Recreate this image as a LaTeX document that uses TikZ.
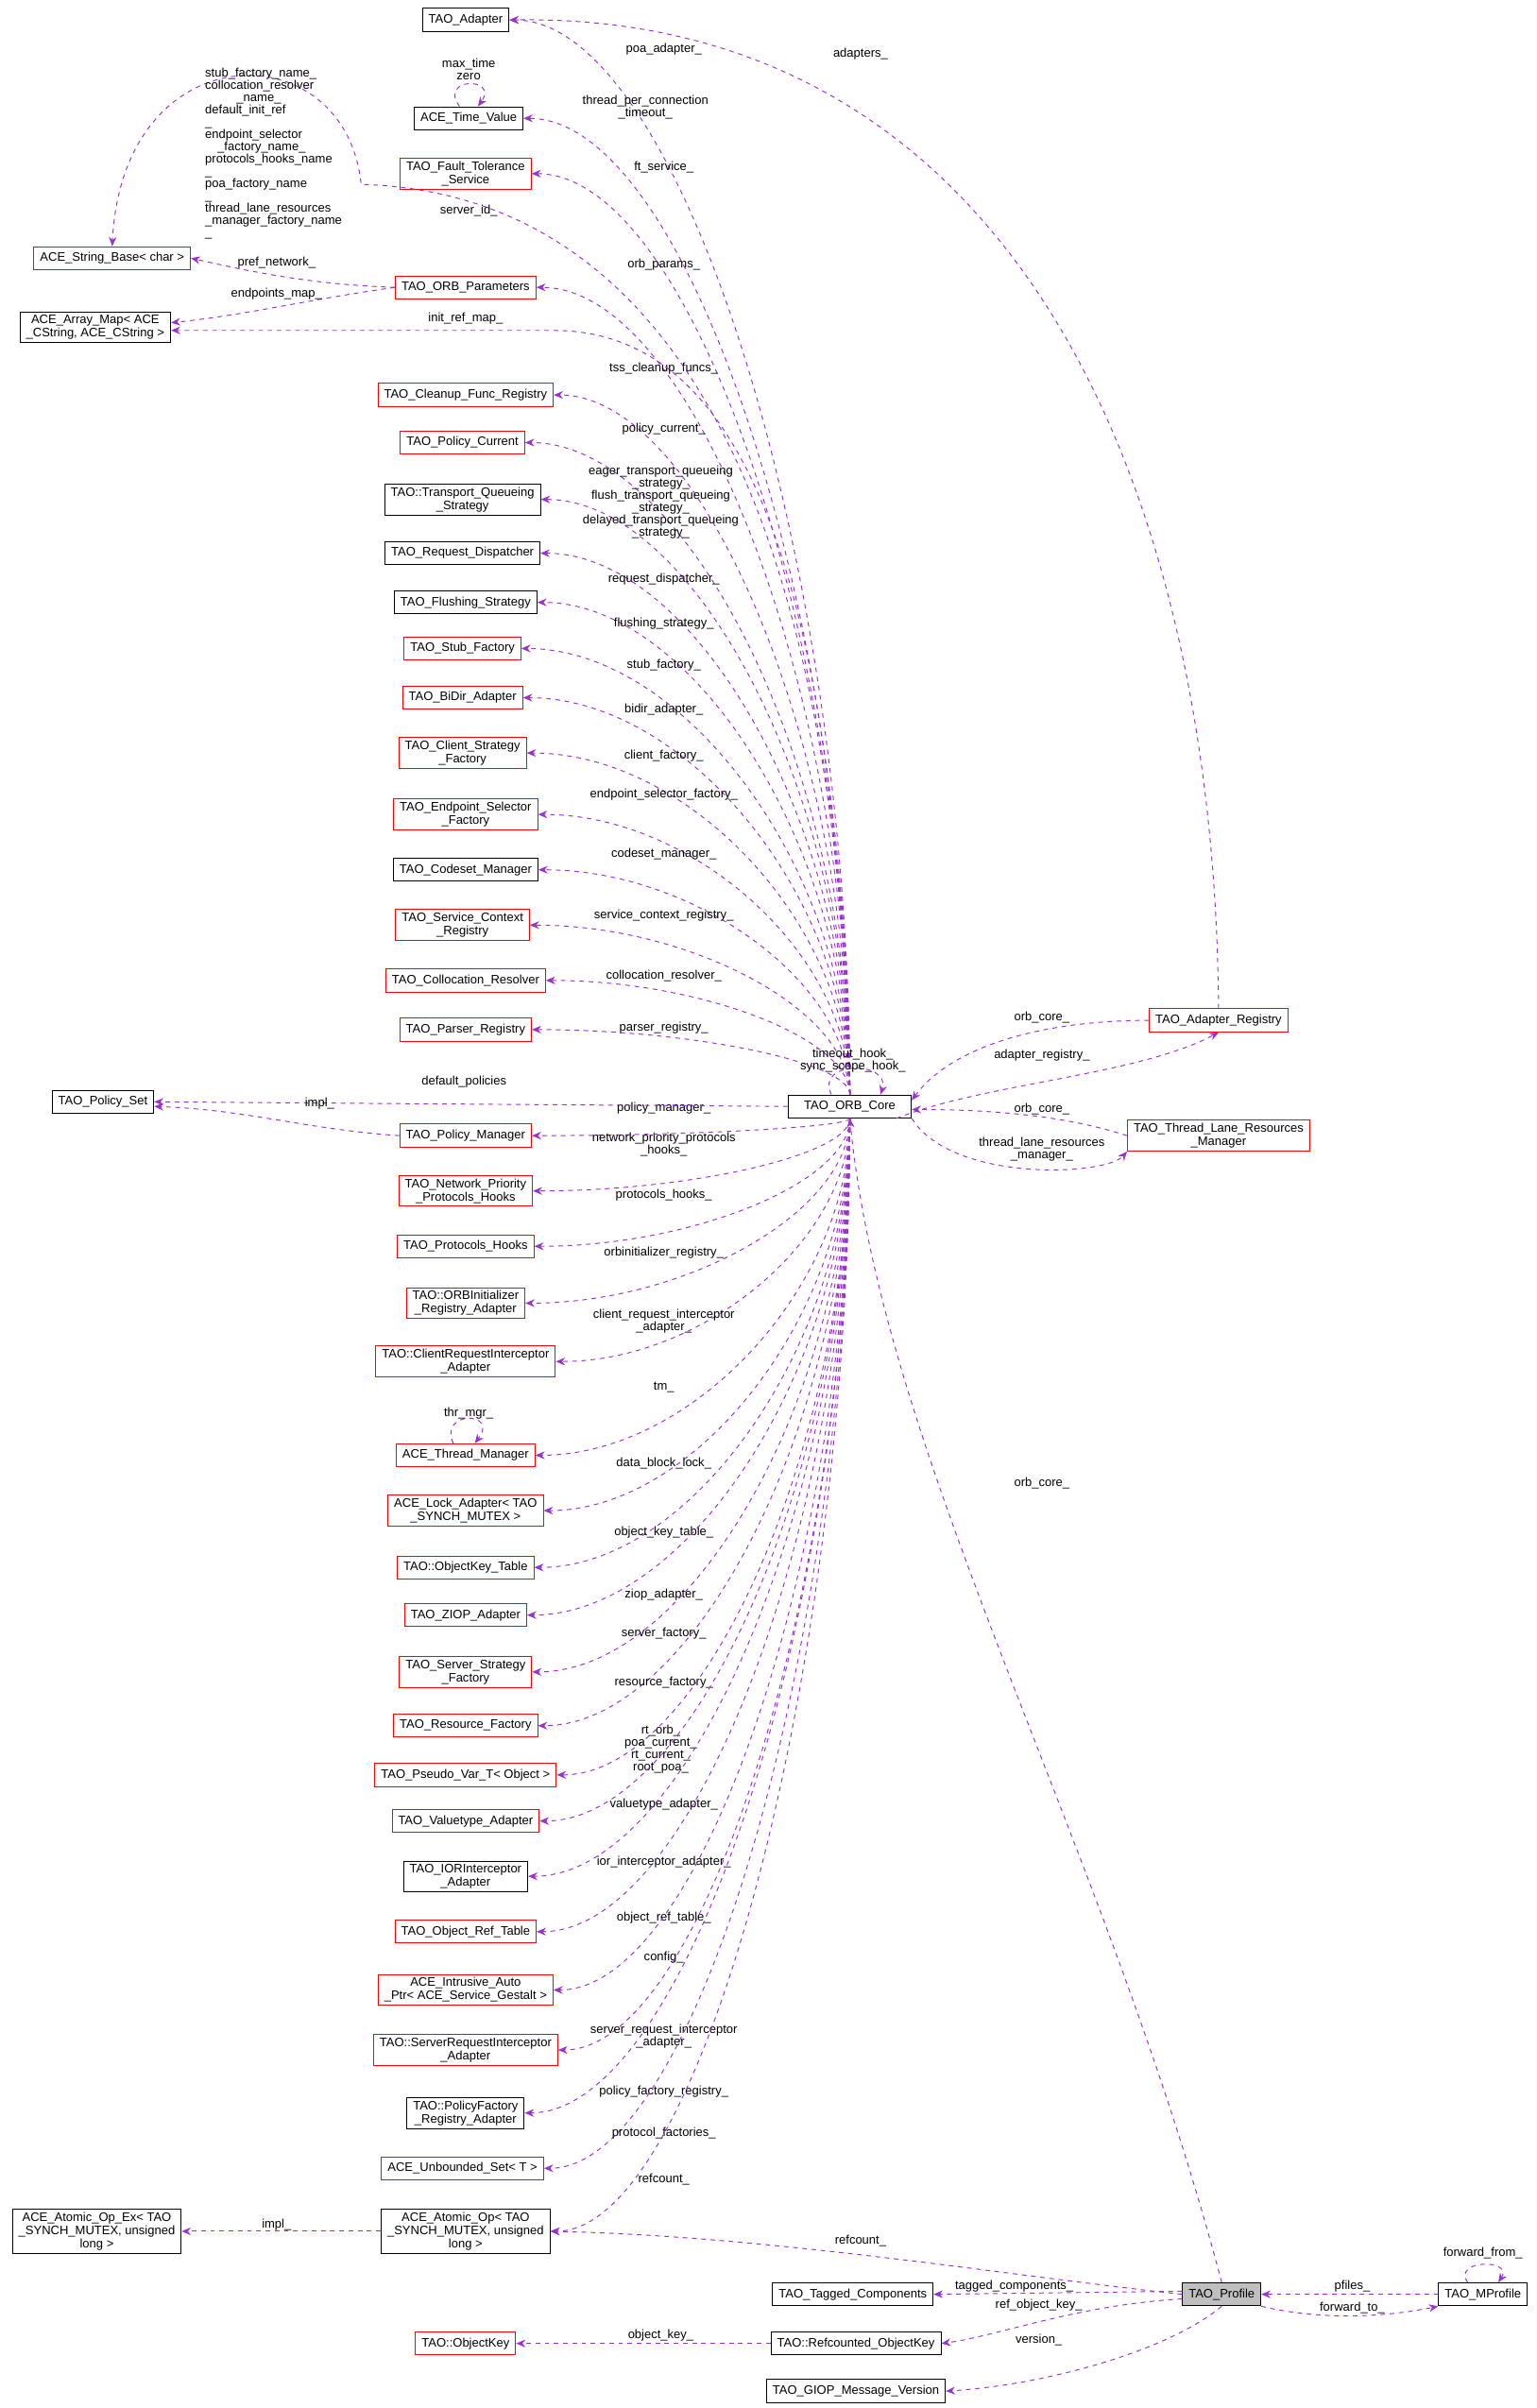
\documentclass[tikz,border=0pt]{standalone}
\usepackage{fontspec}
\setmainfont{Liberation Sans}
\usetikzlibrary{arrows.meta,calc}
\definecolor{edgepurple}{HTML}{9A32CD}
\tikzset{
  cls/.style={draw=black, rectangle, align=center, inner xsep=4pt, inner ysep=2pt,
    font=\fontsize{8}{8.6}\selectfont, minimum height=15pt, line width=0.6pt},
  redcls/.style={cls, draw=red},
  lab/.style={align=center, font=\fontsize{8}{8}\selectfont, inner sep=0pt},
  edge/.style={draw=edgepurple, dashed, line width=0.6pt, -{Stealth[length=6pt,width=5pt]}}
}
\catcode`\_=12
\begin{document}
\begin{tikzpicture}[x=1pt,y=-1pt]
\useasboundingbox (0,0) rectangle (1000,1567);
% classes around the core
\node[cls] (adapter) at (303,13) {TAO_Adapter};
\node[cls] (timevalue) at (305,77) {ACE_Time_Value};
\node[redcls] (ftservice) at (303,113) {TAO_Fault_Tolerance\\_Service};
\node[redcls] (strbase) at (73,168) {ACE_String_Base< char >};
\node[redcls] (orbparams) at (303,187) {TAO_ORB_Parameters};
\node[cls] (arraymap) at (62,213) {ACE_Array_Map< ACE\\_CString, ACE_CString >};
\node[redcls] (cleanup) at (303,257) {TAO_Cleanup_Func_Registry};
\node[redcls] (polcurrent) at (301,288) {TAO_Policy_Current};
\node[cls] (queueing) at (301,325) {TAO::Transport_Queueing\\_Strategy};
\node[cls] (reqdisp) at (301,360) {TAO_Request_Dispatcher};
\node[cls] (flushing) at (303,392) {TAO_Flushing_Strategy};
\node[redcls] (stubfac) at (301,422) {TAO_Stub_Factory};
\node[redcls] (bidir) at (301,454) {TAO_BiDir_Adapter};
\node[redcls] (clientstrat) at (301,490) {TAO_Client_Strategy\\_Factory};
\node[redcls] (endpsel) at (303,530) {TAO_Endpoint_Selector\\_Factory};
\node[cls] (codeset) at (303,566) {TAO_Codeset_Manager};
\node[redcls] (servctx) at (301,602) {TAO_Service_Context\\_Registry};
\node[redcls] (colloc) at (303,638) {TAO_Collocation_Resolver};
\node[redcls] (parser) at (303,670) {TAO_Parser_Registry};
\node[cls] (policyset) at (67,717) {TAO_Policy_Set};
\node[redcls] (polmgr) at (303,739) {TAO_Policy_Manager};
\node[redcls] (netprio) at (303,775) {TAO_Network_Priority\\_Protocols_Hooks};
\node[redcls] (prothooks) at (303,811) {TAO_Protocols_Hooks};
\node[redcls] (orbinit) at (303,848) {TAO::ORBInitializer\\_Registry_Adapter};
\node[redcls] (clientreq) at (303,886) {TAO::ClientRequestInterceptor\\_Adapter};
\node[redcls] (thrmgr) at (303,947) {ACE_Thread_Manager};
\node[redcls] (lockad) at (303,983) {ACE_Lock_Adapter< TAO\\_SYNCH_MUTEX >};
\node[redcls] (okeytable) at (303,1020) {TAO::ObjectKey_Table};
\node[redcls] (ziop) at (303,1051) {TAO_ZIOP_Adapter};
\node[redcls] (servstrat) at (303,1088) {TAO_Server_Strategy\\_Factory};
\node[redcls] (resfac) at (303,1123) {TAO_Resource_Factory};
\node[redcls] (pseudovar) at (303,1155) {TAO_Pseudo_Var_T< Object >};
\node[redcls] (valuetype) at (303,1185) {TAO_Valuetype_Adapter};
\node[cls] (iorint) at (303,1221) {TAO_IORInterceptor\\_Adapter};
\node[redcls] (objreftab) at (303,1257) {TAO_Object_Ref_Table};
\node[redcls] (autoptr) at (303,1295) {ACE_Intrusive_Auto\\_Ptr< ACE_Service_Gestalt >};
\node[redcls] (servreq) at (303,1334) {TAO::ServerRequestInterceptor\\_Adapter};
\node[cls] (polfac) at (303,1375) {TAO::PolicyFactory\\_Registry_Adapter};
\node[redcls] (unbset) at (301,1411) {ACE_Unbounded_Set< T >};
\node[cls] (atomicop) at (303,1452) {ACE_Atomic_Op< TAO\\_SYNCH_MUTEX, unsigned\\long >};
\node[cls] (atomicex) at (63,1452) {ACE_Atomic_Op_Ex< TAO\\_SYNCH_MUTEX, unsigned\\long >};
\node[cls, minimum width=80pt] (core) at (553,720) {TAO_ORB_Core};
\node[redcls] (adreg) at (793,664) {TAO_Adapter_Registry};
\node[redcls] (lanemgr) at (793,739) {TAO_Thread_Lane_Resources\\_Manager};
\node[cls] (tagged) at (555,1493) {TAO_Tagged_Components};
\node[cls, fill=black!25] (profile) at (795,1493) {TAO_Profile};
\node[cls] (mprofile) at (965,1493) {TAO_MProfile};
\node[redcls] (objkey) at (303,1525) {TAO::ObjectKey};
\node[cls] (refkey) at (557,1525) {TAO::Refcounted_ObjectKey};
\node[cls] (giopver) at (557,1556) {TAO_GIOP_Message_Version};

% members of the core, drawn to the left
\foreach \t/\a/\lx/\ly/\txt in {
  adapter/north/432/32/poa_adapter_,
  timevalue/north/420/70/thread_per_connection\\_timeout_,
  ftservice/north/432/109/ft_service_,
  orbparams/north/432/172/orb_params_,
  cleanup/north/432/240/tss_cleanup_funcs_,
  polcurrent/north/432/279/policy_current_,
  queueing/north/430/327/eager_transport_queueing\\_strategy_\\flush_transport_queueing\\_strategy_\\delayed_transport_queueing\\_strategy_,
  reqdisp/north/432/377/request_dispatcher_,
  flushing/north/432/406/flushing_strategy_,
  stubfac/north/432/433/stub_factory_,
  bidir/north/432/462/bidir_adapter_,
  clientstrat/north/432/492/client_factory_,
  endpsel/north/432/517/endpoint_selector_factory_,
  codeset/north/432/556/codeset_manager_,
  servctx/north/432/596/service_context_registry_,
  colloc/north/432/635/collocation_resolver_,
  parser/north/432/669/parser_registry_,
  polmgr/south/432/721/policy_manager_,
  netprio/south/432/745/network_priority_protocols\\_hooks_,
  prothooks/south/432/778/protocols_hooks_,
  orbinit/south/432/815/orbinitializer_registry_,
  clientreq/south/432/860/client_request_interceptor\\_adapter_,
  thrmgr/south/432/903/tm_,
  lockad/south/432/952/data_block_lock_,
  okeytable/south/432/997/object_key_table_,
  ziop/south/432/1038/ziop_adapter_,
  servstrat/south/432/1063/server_factory_,
  resfac/south/432/1095/resource_factory_,
  pseudovar/south/430/1138/rt_orb_\\poa_current_\\rt_current_\\root_poa_,
  valuetype/south/432/1174/valuetype_adapter_,
  iorint/south/432/1212/ior_interceptor_adapter_,
  objreftab/south/432/1248/object_ref_table_,
  autoptr/south/432/1274/config_,
  servreq/south/432/1325/server_request_interceptor\\_adapter_,
  polfac/south/432/1361/policy_factory_registry_,
  unbset/south/432/1388/protocol_factories_,
  atomicop/south/432/1418/refcount_}
{
  \draw[edge] let \p1=(\t.east), \p2=(core.\a) in
    (core.\a) .. controls (\x2,{0.5*(\y1+\y2)}) and ({0.5*(\x1+\x2)},\y1) .. (\t.east);
  \node[lab] (lab-\t) at (\lx,\ly) {\txt};
}

% the remaining links
\draw[edge] (core.north) .. controls (545,420) and (500,215) .. (360,215) -- ($(arraymap.east)+(0,2)$);
\node[lab] (labinit) at (303,207) {init_ref_map_};
\draw[edge] (core.north) .. controls (545,300) and (420,125) .. (235,120)
  .. controls (225,20) and (80,20) .. (strbase.north);
\node[lab, align=left] (labstr) at (178,100) {stub_factory_name_\\collocation_resolver\\\quad\quad\ \ _name_\\default_init_ref\\_\\endpoint_selector\\\quad _factory_name_\\protocols_hooks_name\\_\\poa_factory_name\\_\\thread_lane_resources\\_manager_factory_name\\_};
\node[lab] (labsid) at (305,137) {server_id_};
\draw[edge] (orbparams.west) .. controls (200,185) and (160,176) .. (strbase.east);
\node[lab] (labpref) at (180,171) {pref_network_};
\draw[edge] (orbparams.west) .. controls (200,195) and (160,205) .. ($(arraymap.east)+(0,-3)$);
\node[lab] (labendp) at (180,191) {endpoints_map_};
\draw[edge] (core.west) -- (policyset.east);
\node[lab] (labdef) at (302,704) {default_policies};
\draw[edge] (polmgr.west) .. controls (200,735) and (160,722) .. ($(policyset.east)+(0,3)$);
\node[lab] (labimpl) at (208,718) {impl_};
\draw[edge] (atomicop.west) -- (atomicex.east);
\node[lab] (labimpl2) at (180,1448) {impl_};
% self loops
\draw[edge] ($(timevalue.north)+(-6,0)$) .. controls (285,50) and (325,50) .. ($(timevalue.north)+(6,0)$);
\node[lab] (labmax) at (305,45) {max_time\\zero};
\draw[edge] ($(thrmgr.north)+(-8,0)$) .. controls (285,918) and (325,918) .. ($(thrmgr.north)+(6,0)$);
\node[lab] (labthr) at (305,920) {thr_mgr_};
\draw[edge] ($(core.north)+(-12,0)$) .. controls (530,690) and (580,690) .. ($(core.north)+(20,0)$);
\node[lab] (labhook) at (555,690) {timeout_hook_\\sync_scope_hook_};
\draw[edge] ($(mprofile.north)+(-10,0)$) .. controls (945,1470) and (985,1470) .. ($(mprofile.north)+(10,0)$);
\node[lab] (labfwf) at (965,1466) {forward_from_};
% registries on the right
\draw[edge] (adreg.north) .. controls (790,300) and (650,8) .. (adapter.east);
\node[lab] (labadapters) at (560,35) {adapters_};
\draw[edge] (adreg.west) .. controls (680,664) and (620,680) .. ($(core.east)+(0,-4)$);
\node[lab] (laborb1) at (678,662) {orb_core_};
\draw[edge] ($(core.south east)+(-10,0)$) .. controls (640,705) and (740,700) .. (adreg.south);
\node[lab] (labadreg) at (678,687) {adapter_registry_};
\draw[edge] (lanemgr.west) .. controls (690,725) and (640,722) .. ($(core.east)+(0,2)$);
\node[lab] (laborb2) at (678,722) {orb_core_};
\draw[edge] ($(core.south east)+(0,0)$) .. controls (620,770) and (720,765) .. (lanemgr.south west);
\node[lab] (labtlr) at (678,748) {thread_lane_resources\\_manager_};
% profile links
\draw[edge] (profile.north) .. controls (720,1200) and (575,950) .. (core.south);
\node[lab] (laborb3) at (678,965) {orb_core_};
\draw[edge] (profile.west) .. controls (650,1480) and (500,1455) .. (atomicop.east);
\node[lab] (labref2) at (560,1458) {refcount_};
\draw[edge] ($(profile.west)+(0,-2)$) -- (tagged.east);
\node[lab] (labtag) at (660,1488) {tagged_components_};
\draw[edge] ($(profile.west)+(0,3)$) .. controls (700,1500) and (650,1520) .. (refkey.east);
\node[lab] (labrok) at (676,1500) {ref_object_key_};
\draw[edge] (refkey.west) -- (objkey.east);
\node[lab] (labok) at (430,1520) {object_key_};
\draw[edge] (profile.south) .. controls (760,1530) and (680,1552) .. (giopver.east);
\node[lab] (labver) at (676,1523) {version_};
\draw[edge] (mprofile.west) -- (profile.east);
\node[lab] (labpf) at (880,1488) {pfiles_};
\draw[edge] (profile.south east) .. controls (860,1510) and (900,1508) .. (mprofile.south west);
\node[lab] (labfwt) at (880,1502) {forward_to_};
\end{tikzpicture}
\end{document}
